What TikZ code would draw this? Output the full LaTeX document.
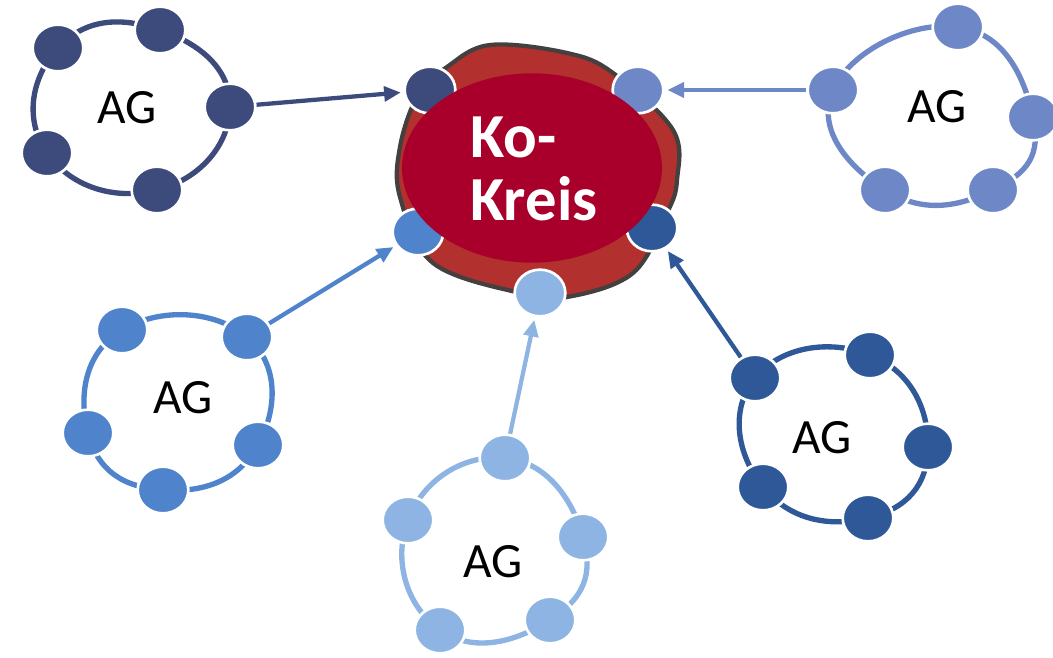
\documentclass[tikz,border=0pt]{standalone}
\usepackage{fontspec}
\setmainfont{Carlito}
\usetikzlibrary{shapes.geometric,arrows.meta,backgrounds}
\definecolor{navy}{HTML}{3C4A7C}
\definecolor{peri}{HTML}{6E88C7}
\definecolor{midblue}{HTML}{4F83CB}
\definecolor{lightblue}{HTML}{8DB4E2}
\definecolor{darkblue}{HTML}{2F5899}
\definecolor{blobred}{HTML}{B2302E}
\definecolor{blobline}{HTML}{454040}
\definecolor{crimson}{HTML}{A8002B}
\pgfdeclarelayer{fg}
\pgfsetlayers{background,main,fg}
\tikzset{
  member/.style={ellipse, minimum width=38pt, minimum height=35pt, inner sep=0pt,
    fill=#1, draw=white, line width=2pt},
  ring/.style={draw=#1, line width=4pt},
  link/.style={draw=#1, line width=3.2pt, -{Triangle[length=12.5pt,width=11pt]}, shorten >=2pt},
  agtext/.style={font=\fontsize{37}{40}\selectfont, text=black, inner sep=0pt},
  kotext/.style={font=\fontsize{47}{48}\selectfont\bfseries, text=white, inner sep=0pt, anchor=base west},
  core/.style={ellipse, fill=crimson, minimum width=195pt, minimum height=142pt, inner sep=0pt},
  blob/.style={fill=blobred, draw=blobline, line width=3.2pt}
}
\begin{document}
\begin{tikzpicture}[x=0.75pt,y=-0.75pt]
\useasboundingbox (0,0) rectangle (1053,657);

% central blob
\begin{pgfonlayer}{background}
\draw[blob] plot[smooth cycle, tension=0.6] coordinates {(447,67) (490,45) (567,53) (613,73) (673,130) (677,180) (667,213) (633,273) (567,297) (520,293) (433,263) (400,197) (400,147) (418,95)};
\end{pgfonlayer}

% central members
\node[member=navy] (k1) at (430,90) {};
\node[member=peri] (k2) at (638,90) {};
\node[member=midblue] (k3) at (418,232) {};
\node[member=darkblue] (k4) at (652,228) {};
\node[member=lightblue] (k5) at (540,293) {};

\begin{pgfonlayer}{fg}
\node[core] (core) at (532,168) {};
\node[kotext] (ko) at (470,157) {Ko-};
\node[kotext] (kreis) at (470,220) {Kreis};
\end{pgfonlayer}

% group A (top-left)
\node[member=navy] (a1) at (58,48) {};
\node[member=navy] (a2) at (160,30) {};
\node[member=navy] (a3) at (230,107) {};
\node[member=navy] (a4) at (157,190) {};
\node[member=navy] (a5) at (47,153) {};
\node[agtext] (agA) at (127,108) {AG};

% group B (top-right)
\node[member=peri] (b1) at (958,27) {};
\node[member=peri] (b2) at (1033,117) {};
\node[member=peri] (b3) at (993,190) {};
\node[member=peri] (b4) at (885,190) {};
\node[member=peri] (b5) at (833,90) {};
\node[agtext] (agB) at (937,107) {AG};

% group C (left)
\node[member=midblue] (c1) at (122,330) {};
\node[member=midblue] (c2) at (247,337) {};
\node[member=midblue] (c3) at (258,445) {};
\node[member=midblue] (c4) at (163,490) {};
\node[member=midblue] (c5) at (88,433) {};
\node[agtext] (agC) at (183,398) {AG};

% group D (bottom)
\node[member=lightblue] (d1) at (505,458) {};
\node[member=lightblue] (d2) at (583,537) {};
\node[member=lightblue] (d3) at (550,620) {};
\node[member=lightblue] (d4) at (440,630) {};
\node[member=lightblue] (d5) at (408,520) {};
\node[agtext] (agD) at (493,562) {AG};

% group E (bottom-right)
\node[member=darkblue] (e1) at (755,378) {};
\node[member=darkblue] (e2) at (870,355) {};
\node[member=darkblue] (e3) at (928,447) {};
\node[member=darkblue] (e4) at (868,518) {};
\node[member=darkblue] (e5) at (763,487) {};
\node[agtext] (agE) at (822,438) {AG};

\begin{pgfonlayer}{background}
\draw[ring=navy] plot[smooth cycle, tension=0.85] coordinates {(a1) (a2) (a3) (a4) (a5)};
\draw[ring=peri] plot[smooth cycle, tension=0.85] coordinates {(b1) (b2) (b3) (b4) (b5)};
\draw[ring=midblue] plot[smooth cycle, tension=0.85] coordinates {(c1) (c2) (c3) (c4) (c5)};
\draw[ring=lightblue] plot[smooth cycle, tension=0.85] coordinates {(d1) (d2) (d3) (d4) (d5)};
\draw[ring=darkblue] plot[smooth cycle, tension=0.85] coordinates {(e1) (e2) (e3) (e4) (e5)};
\end{pgfonlayer}

% links
\draw[link=navy] (a3) -- (k1);
\draw[link=peri] (b5) -- (k2);
\draw[link=midblue] (c2) -- (k3);
\draw[link=lightblue] (d1) -- (k5);
\draw[link=darkblue] (e1) -- (k4);
\end{tikzpicture}
\end{document}
